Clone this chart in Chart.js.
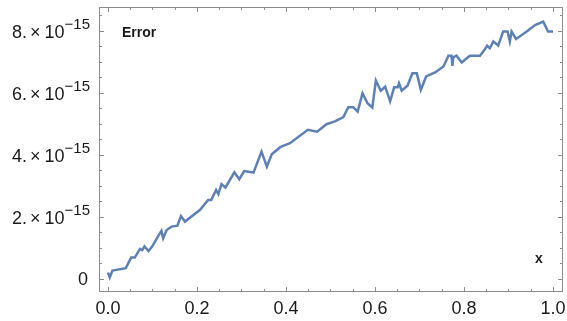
<!DOCTYPE html>
<html>
<head>
<meta charset="utf-8">
<script src="https://cdn.jsdelivr.net/npm/chart.js@4/dist/chart.umd.min.js"></script>
<style>
  html, body { margin: 0; padding: 0; background: #fff; }
  #wrap { width: 567px; height: 321px; }
</style>
</head>
<body>
<div id="wrap"><canvas id="chart" width="567" height="321"></canvas></div>
<script>
// x sample positions and error values (units of 1e-15)
const xValues = [
  0.000, 0.004, 0.010, 0.040, 0.052, 0.060, 0.072, 0.077, 0.082, 0.091,
  0.100, 0.113, 0.120, 0.124, 0.132, 0.143, 0.156, 0.164, 0.173, 0.207,
  0.225, 0.232, 0.243, 0.248, 0.255, 0.264, 0.284, 0.295, 0.306, 0.327,
  0.345, 0.357, 0.368, 0.387, 0.409, 0.449, 0.470, 0.491, 0.510, 0.529,
  0.540, 0.551, 0.561, 0.572, 0.583, 0.594, 0.602, 0.613, 0.623, 0.634,
  0.643, 0.651, 0.654, 0.660, 0.673, 0.684, 0.694, 0.703, 0.715, 0.735,
  0.754, 0.765, 0.772, 0.774, 0.776, 0.783, 0.795, 0.813, 0.836, 0.847,
  0.852, 0.858, 0.866, 0.877, 0.888, 0.898, 0.903, 0.907, 0.917, 0.941,
  0.960, 0.978, 0.989, 1.000
];
const errorValues = [
  0.21, 0.05, 0.27, 0.35, 0.69, 0.69, 0.97, 0.93, 1.05, 0.90,
  1.06, 1.39, 1.55, 1.31, 1.58, 1.69, 1.72, 2.03, 1.85, 2.23,
  2.55, 2.55, 2.87, 2.74, 3.06, 2.95, 3.44, 3.22, 3.48, 3.43,
  4.11, 3.62, 4.02, 4.25, 4.38, 4.81, 4.75, 4.99, 5.08, 5.22,
  5.54, 5.54, 5.40, 5.99, 5.67, 5.53, 6.40, 6.07, 6.20, 5.73,
  6.18, 6.18, 6.31, 6.07, 6.23, 6.63, 6.63, 6.10, 6.53, 6.66,
  6.85, 7.20, 7.20, 6.87, 7.15, 7.20, 6.98, 7.20, 7.20, 7.41,
  7.52, 7.44, 7.66, 7.53, 7.98, 7.98, 7.66, 7.98, 7.74, 7.98,
  8.19, 8.30, 7.98, 7.98
];

// tick marks
const xMajorTicks = [0, 0.2, 0.4, 0.6, 0.8, 1.0];
const xTickLabels = ['0.0', '0.2', '0.4', '0.6', '0.8', '1.0'];
const yMajorTicks = [0, 2, 4, 6, 8];
const yTickLabels = ['0', '2.', '4.', '6.', '8.'];
const xMinorStep = 0.05;
const yMinorStep = 0.5;

const frameColor = '#8c8c8c';
const textColor = '#1a1a1a';
const fontFamily = '"Liberation Sans", Arial, sans-serif';

const points = xValues.map((x, i) => ({ x: x, y: errorValues[i] }));

const framePlugin = {
  id: 'framePlugin',
  afterDraw(chart) {
    const ctx = chart.ctx;
    const a = chart.chartArea;
    const xs = chart.scales.x;
    const ys = chart.scales.y;
    ctx.save();

    // frame
    ctx.strokeStyle = frameColor;
    ctx.lineWidth = 1;
    ctx.strokeRect(a.left + 0.5, a.top + 0.5, a.right - a.left - 1, a.bottom - a.top - 1);

    // ticks, inward on all four sides
    ctx.beginPath();
    for (let v = 0; v <= 1.0001; v += xMinorStep) {
      const px = Math.round(xs.getPixelForValue(v)) + 0.5;
      const major = xMajorTicks.some(t => Math.abs(t - v) < 1e-6);
      const len = major ? 5 : 3;
      ctx.moveTo(px, a.bottom); ctx.lineTo(px, a.bottom - len);
      ctx.moveTo(px, a.top); ctx.lineTo(px, a.top + len);
    }
    for (let v = 0; v <= 8.5001; v += yMinorStep) {
      const py = Math.round(ys.getPixelForValue(v)) + 0.5;
      const major = yMajorTicks.some(t => Math.abs(t - v) < 1e-6);
      const len = major ? 5 : 3;
      ctx.moveTo(a.left, py); ctx.lineTo(a.left + len, py);
      ctx.moveTo(a.right, py); ctx.lineTo(a.right - len, py);
    }
    ctx.stroke();

    // x tick labels
    ctx.fillStyle = textColor;
    ctx.font = '18px ' + fontFamily;
    ctx.textAlign = 'center';
    ctx.textBaseline = 'alphabetic';
    xMajorTicks.forEach((v, i) => {
      ctx.fillText(xTickLabels[i], xs.getPixelForValue(v), a.bottom + 22);
    });

    // y tick labels with exponent
    const right = a.left - 9;
    const mainFont = '18px ' + fontFamily;
    const supFont = '15px ' + fontFamily;
    ctx.textAlign = 'left';
    yMajorTicks.forEach((v, i) => {
      const py = ys.getPixelForValue(v);
      if (v === 0) {
        ctx.font = mainFont;
        const w = ctx.measureText('0').width;
        ctx.fillText('0', right - 2 - w, py + 6);
        return;
      }
      const sup = '\u221215';
      ctx.font = supFont;
      const supX = right - ctx.measureText(sup).width;
      ctx.font = mainFont;
      const tenX = supX - ctx.measureText('10').width;
      const timesX = tenX - 4 - ctx.measureText('\u00d7').width;
      const digitX = timesX - 3 - ctx.measureText(yTickLabels[i]).width;
      ctx.fillText(yTickLabels[i], digitX, py + 7);
      ctx.fillText('\u00d7', timesX, py + 7);
      ctx.fillText('10', tenX, py + 7);
      ctx.font = supFont;
      ctx.fillText(sup, supX, py - 2);
    });

    // axis labels
    ctx.font = 'bold 14px ' + fontFamily;
    ctx.fillText('Error', 122, 37);
    ctx.fillText('x', 535, 263);

    ctx.restore();
  }
};

new Chart(document.getElementById('chart'), {
  type: 'scatter',
  data: {
    datasets: [{
      label: 'Error',
      data: points,
      showLine: true,
      borderColor: '#5e81b5',
      backgroundColor: '#5e81b5',
      borderWidth: 2.5,
      pointRadius: 0,
      tension: 0
    }]
  },
  options: {
    responsive: false,
    animation: false,
    layout: { padding: { top: 7, right: 4, bottom: 0, left: 0 } },
    plugins: {
      legend: { display: false },
      tooltip: { enabled: false }
    },
    scales: {
      x: {
        type: 'linear',
        min: -0.0202,
        max: 1.0225,
        ticks: { display: false },
        grid: { display: false },
        border: { display: false },
        afterFit(scale) { scale.height = 29; }
      },
      y: {
        type: 'linear',
        min: -0.42,
        max: 8.77,
        ticks: { display: false },
        grid: { display: false },
        border: { display: false },
        afterFit(scale) { scale.width = 99; }
      }
    }
  },
  plugins: [framePlugin]
});
</script>
</body>
</html>
